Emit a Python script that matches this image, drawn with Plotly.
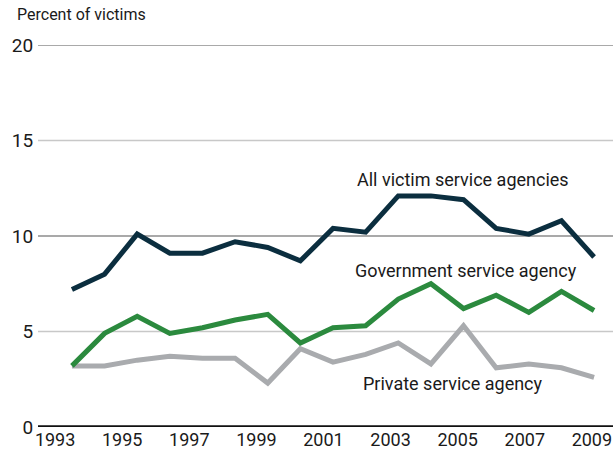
import plotly.graph_objects as go

years = list(range(1993, 2010))
all_agencies = [7.2, 8.0, 10.1, 9.1, 9.1, 9.7, 9.4, 8.7, 10.4, 10.2, 12.1, 12.1, 11.9, 10.4, 10.1, 10.8, 8.9]
government = [3.2, 4.9, 5.8, 4.9, 5.2, 5.6, 5.9, 4.4, 5.2, 5.3, 6.7, 7.5, 6.2, 6.9, 6.0, 7.1, 6.1]
private = [3.2, 3.2, 3.5, 3.7, 3.6, 3.6, 2.3, 4.1, 3.4, 3.8, 4.4, 3.3, 5.3, 3.1, 3.3, 3.1, 2.6]
tick_years = list(range(1993, 2010, 2))
y_ticks = [0, 5, 10, 15, 20]

FONT = "Roboto, Liberation Sans, sans-serif"
NAVY = "#0b2e3f"
GREEN = "#2b8a3e"
GRAY = "#a9abae"
TXT = "#1a1a1a"

fig = go.Figure()
fig.add_trace(go.Scatter(x=years, y=private, mode="lines", line=dict(color=GRAY, width=5), showlegend=False, hoverinfo="skip"))
fig.add_trace(go.Scatter(x=years, y=government, mode="lines", line=dict(color=GREEN, width=5), showlegend=False, hoverinfo="skip"))
fig.add_trace(go.Scatter(x=years, y=all_agencies, mode="lines", line=dict(color=NAVY, width=5), showlegend=False, hoverinfo="skip"))
# invisible trace carrying the label axis
fig.add_trace(go.Scatter(x=[tick_years[0]], y=[0], xaxis="x2", mode="markers", marker=dict(opacity=0), showlegend=False, hoverinfo="skip"))

for v in y_ticks[1:]:
    fig.add_shape(type="line", xref="paper", x0=0, x1=1, yref="y", y0=v, y1=v,
                  line=dict(color="#8c8c8c" if v % 10 == 0 else "#c8c8c8", width=1.3), layer="below")

fig.add_shape(type="line", xref="paper", x0=0, x1=1, yref="y", y0=0, y1=0, line=dict(color="#111111", width=3.5))

fig.update_layout(
    width=613, height=452,
    margin=dict(l=38, r=0, t=45, b=25),
    paper_bgcolor="white", plot_bgcolor="white",
    font=dict(family=FONT, color=TXT, size=18),
    xaxis=dict(range=[1991.96, 2009.58], showgrid=False, showticklabels=False, zeroline=False, ticks=""),
    xaxis2=dict(overlaying="x", range=[1992.49, 2009.63], tickvals=tick_years, ticktext=[str(t) for t in tick_years],
                showgrid=False, zeroline=False, ticks="", side="bottom", anchor="y",
                tickfont=dict(size=18, family=FONT, color=TXT)),
    yaxis=dict(range=[0, 20], tickvals=y_ticks, showgrid=False, zeroline=False, ticks="outside",
               ticklen=0, tickfont=dict(size=19, family=FONT, color=TXT)),
    annotations=[
        dict(text="Percent of victims", xref="paper", yref="paper", x=-0.04, y=1.0, yshift=19,
             xanchor="left", yanchor="bottom", showarrow=False, font=dict(size=16, family=FONT, color=TXT)),
        dict(text="All victim service agencies", x=2004.98, y=12.95, showarrow=False,
             font=dict(size=18, family=FONT, color=TXT)),
        dict(text="Government service agency", x=2005.07, y=8.2, showarrow=False,
             font=dict(size=18, family=FONT, color=TXT)),
        dict(text="Private service agency", x=2004.67, y=2.3, showarrow=False,
             font=dict(size=18, family=FONT, color=TXT)),
    ],
)

fig.write_html("out.html", config={"displayModeBar": False},
               post_script="document.body.style.margin='0';")
